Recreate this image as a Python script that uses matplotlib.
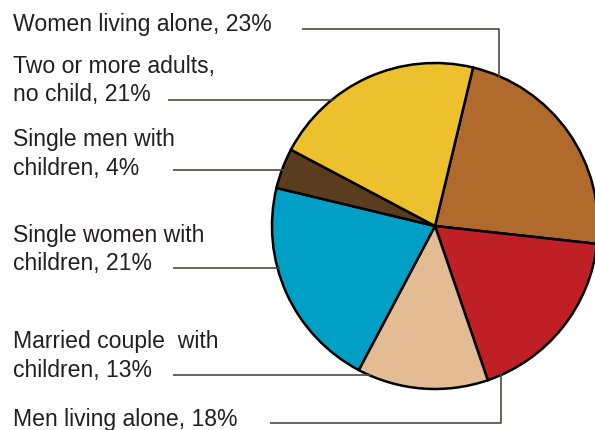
import numpy as np
import matplotlib
matplotlib.use('Agg')
import matplotlib.pyplot as plt

# --- Data ---
categories = [
    "Women living alone",
    "Men living alone",
    "Married couple  with children",
    "Single women with children",
    "Single men with children",
    "Two or more adults, no child",
]
shares = [23, 18, 13, 21, 4, 21]
label_lines = [
    ["Women living alone, 23%"],
    ["Men living alone, 18%"],
    ["Married couple  with", "children, 13%"],
    ["Single women with", "children, 21%"],
    ["Single men with", "children, 4%"],
    ["Two or more adults,", "no child, 21%"],
]
colors = ["#B06A2C", "#BF2026", "#E3BC94", "#00A0C6", "#5A3D1F", "#EDC02E"]

# --- Layout (pixel units, y measured from top) ---
W, H = 595, 430
CX, CY, R = 435, 226, 163
TEXT_X = 13
LINE_H = 28.5
# first-line baseline, leader start x, leader y, vertical x (None = straight)
layout = [
    (30.7, 302, 28.5, 499),
    (426.0, 270, 423.0, 501),
    (348.3, 173, 375.0, None),
    (241.7, 173, 268.0, None),
    (146.0, 173, 170.0, None),
    (73.0, 168, 99.7, None),
]


def Y(y):
    return H - y


fig = plt.figure(figsize=(W / 100, H / 100), dpi=100)
ax = fig.add_axes([0, 0, 1, 1])

ax.pie(shares, colors=colors, startangle=76.5, counterclock=False,
       center=(CX, Y(CY)), radius=R, frame=True,
       wedgeprops=dict(edgecolor="black", linewidth=1.8))

text_kw = dict(fontsize=16.6, family="Liberation Sans", color="#231F20",
               va="baseline", ha="left")
line_kw = dict(color="#4A4A3E", linewidth=1.2, solid_capstyle="butt")

for lines, (base, x0, ly, xv) in zip(label_lines, layout):
    for i, s in enumerate(lines):
        ax.text(TEXT_X, Y(base + i * LINE_H), s, **text_kw)
    if xv is None:
        # run the leader to the pie edge on the left side
        x1 = CX - np.sqrt(R ** 2 - (ly - CY) ** 2)
        ax.plot([x0, x1 + 2], [Y(ly), Y(ly)], **line_kw)
    else:
        dy = np.sqrt(R ** 2 - (xv - CX) ** 2)
        y_end = CY - dy if ly < CY else CY + dy
        y_end += 2 if ly < CY else -2
        ax.plot([x0, xv, xv], [Y(ly), Y(ly), Y(y_end)], **line_kw)

ax.set_xlim(0, W)
ax.set_ylim(0, H)
ax.set_aspect("auto")
ax.axis("off")

plt.savefig("out.png", dpi=100)
